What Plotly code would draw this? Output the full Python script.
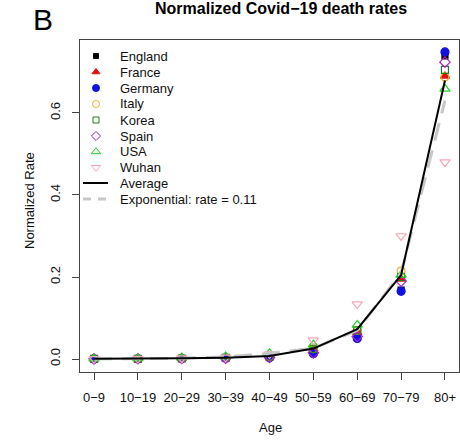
import numpy as np
import plotly.graph_objects as go

ages = ["0−9", "10−19", "20−29", "30−39", "40−49", "50−59", "60−69", "70−79", "80+"]

england = [0.0005, 0.0006, 0.0012, 0.003, 0.006, 0.020, 0.055, 0.168, 0.739]
france  = [0.0004, 0.0006, 0.0015, 0.003, 0.006, 0.025, 0.065, 0.195, 0.690]
germany = [0.0002, 0.0004, 0.0010, 0.002, 0.003, 0.013, 0.050, 0.165, 0.749]
italy   = [0.0004, 0.0005, 0.0015, 0.003, 0.006, 0.025, 0.070, 0.215, 0.688]
korea   = [0.0003, 0.0005, 0.0012, 0.003, 0.006, 0.025, 0.070, 0.200, 0.705]
spain   = [0.0004, 0.0005, 0.0012, 0.002, 0.004, 0.015, 0.055, 0.190, 0.724]
usa     = [0.0010, 0.0015, 0.0030, 0.006, 0.014, 0.035, 0.083, 0.205, 0.659]
wuhan   = [0.0003, 0.0010, 0.0020, 0.004, 0.012, 0.046, 0.134, 0.300, 0.480]
exponential = [0.0002, 0.0006, 0.0017, 0.005, 0.014, 0.026, 0.070, 0.210, 0.630]

series_names = ["England", "France", "Germany", "Italy", "Korea", "Spain", "USA", "Wuhan"]
series_values = [england, france, germany, italy, korea, spain, usa, wuhan]
series_symbols = ["square", "triangle-up", "circle", "circle-open", "square-open",
                  "diamond-open", "triangle-up-open", "triangle-down-open"]
series_colors = ["#000000", "#e01010", "#1010e0", "#f0b030", "#207a20",
                 "#b020c8", "#22d022", "#f4a8b8"]
series_sizes = [6, 8, 8, 8, 7, 8, 9, 9]
legend_sizes = [5, 7, 7, 7, 6, 7, 8, 8]

average = np.mean(np.array(series_values), axis=0)

W, H = 460, 447
L, R, T, B = 80, 1, 40, 75
PW, PH = W - L - R, H - T - B

def px_x(px):
    return (px - L) / PW

def px_y(py):
    return (H - B - py) / PH

fig = go.Figure()

for name, vals, sym, col, sz in zip(series_names, series_values, series_symbols,
                                    series_colors, series_sizes):
    fig.add_trace(go.Scatter(
        x=ages, y=vals, mode="markers", name=name, showlegend=False,
        marker=dict(symbol=sym, color=col, size=sz,
                    line=dict(color=col, width=1.2)),
    ))

fig.add_trace(go.Scatter(
    x=ages, y=exponential, mode="lines", showlegend=False,
    line=dict(color="#c8c8c8", width=3, dash="18px,10px"),
))
fig.add_trace(go.Scatter(
    x=ages, y=average, mode="lines", showlegend=False,
    line=dict(color="#000000", width=2),
))

# custom legend (R style, no box)
rows = [56, 72, 88, 104, 120, 136, 151.7, 167.5, 183, 199]
sym_x = px_x(96)
txt_x = px_x(118)
for i, (name, sym, col, sz) in enumerate(zip(series_names, series_symbols,
                                             series_colors, legend_sizes)):
    fig.add_trace(go.Scatter(
        x=[sym_x], y=[px_y(rows[i])], xaxis="x2", yaxis="y2", mode="markers",
        showlegend=False, hoverinfo="skip",
        marker=dict(symbol=sym, color=col, size=sz, line=dict(color=col, width=1)),
    ))
legend_labels = series_names + ["Average", "Exponential: rate = 0.11"]
for i, lab in enumerate(legend_labels):
    fig.add_annotation(x=txt_x, y=px_y(rows[i]), xref="paper", yref="paper",
                       text=lab, showarrow=False, xanchor="left", yanchor="middle",
                       font=dict(size=13, color="#111111"))
fig.add_shape(type="line", xref="paper", yref="paper",
              x0=px_x(83), x1=px_x(108), y0=px_y(rows[8]), y1=px_y(rows[8]),
              line=dict(color="#000000", width=2))
fig.add_shape(type="line", xref="paper", yref="paper",
              x0=px_x(83), x1=px_x(108), y0=px_y(rows[9]), y1=px_y(rows[9]),
              line=dict(color="#c8c8c8", width=3, dash="8px,7px"))

fig.add_annotation(x=(281 - L) / PW, y=1 + (T - 9) / PH, xref="paper", yref="paper",
                   text="<b>Normalized Covid−19 death rates</b>", showarrow=False,
                   xanchor="center", yanchor="middle",
                   font=dict(size=16, color="#000000"))
fig.add_annotation(x=(43 - L) / PW, y=1 + (T - 19) / PH, xref="paper", yref="paper",
                   text="B", showarrow=False, xanchor="center", yanchor="middle",
                   font=dict(size=30, color="#000000"))
fig.add_annotation(x=(29 - L) / PW, y=px_y(200), xref="paper", yref="paper",
                   text="Normalized Rate", showarrow=False, textangle=-90,
                   xanchor="center", yanchor="middle",
                   font=dict(size=13, color="#111111"))
fig.add_annotation(x=px_x(270), y=px_y(428), xref="paper", yref="paper",
                   text="Age", showarrow=False, xanchor="center", yanchor="middle",
                   font=dict(size=13, color="#111111"))

fig.update_layout(
    width=W, height=H,
    margin=dict(l=L, r=R, t=T, b=B),
    paper_bgcolor="white", plot_bgcolor="white",
    font=dict(family="Liberation Sans, Arial, sans-serif", size=13, color="#111111"),
    xaxis=dict(type="category", range=[-0.32, 8.32], showgrid=False, zeroline=False,
               showline=True, mirror=True, linecolor="#444444", linewidth=1,
               ticks="outside", ticklen=7, tickcolor="#444444",
               tickfont=dict(size=13), ticklabelstandoff=6),
    yaxis=dict(range=[-0.0317, 0.778], showgrid=False, zeroline=False,
               showline=True, mirror=True, linecolor="#444444", linewidth=1,
               ticks="outside", ticklen=7, tickcolor="#444444",
               tickvals=[0, 0.2, 0.4, 0.6], ticktext=["0.0", "0.2", "0.4", "0.6"],
               tickangle=-90, tickfont=dict(size=13), ticklabelstandoff=7),
    xaxis2=dict(overlaying="x", range=[0, 1], visible=False, fixedrange=True),
    yaxis2=dict(overlaying="y", range=[0, 1], visible=False, fixedrange=True),
)

fig.write_html("out.html")
